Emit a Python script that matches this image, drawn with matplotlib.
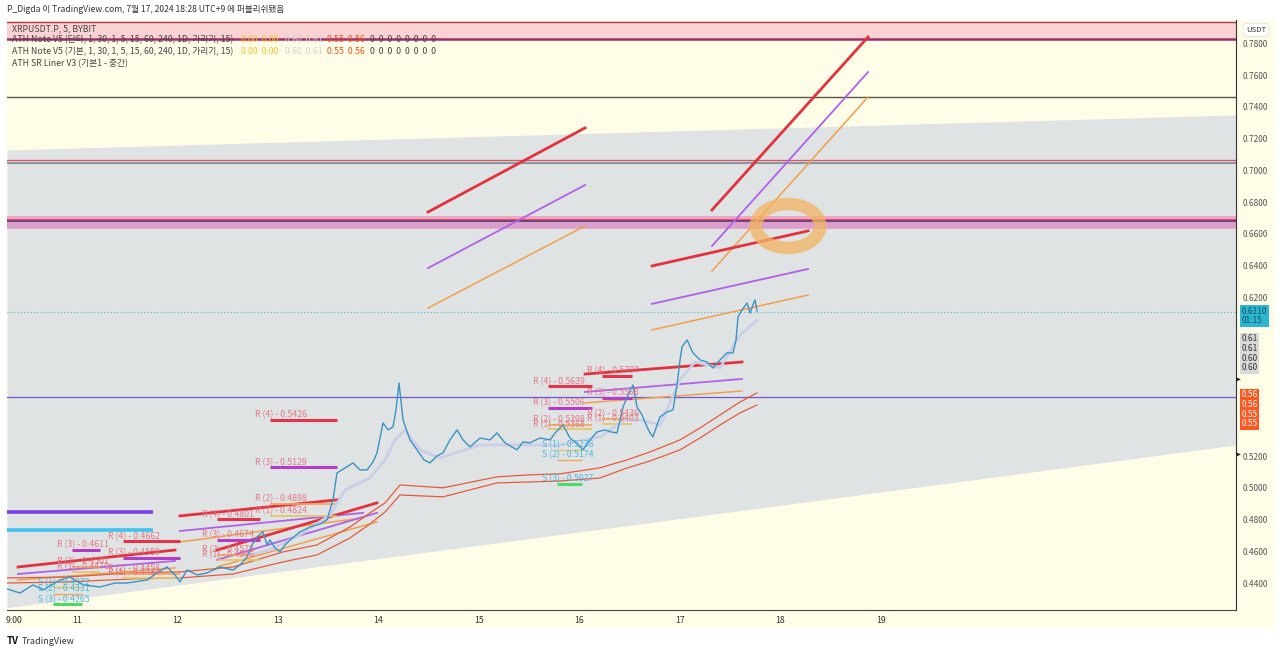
import matplotlib
matplotlib.use("Agg")
import matplotlib.pyplot as plt
import matplotlib.transforms as mtransforms
from matplotlib.patches import Ellipse, Rectangle

plt.rcParams['font.family'] = ['Noto Sans CJK KR', 'DejaVu Sans']

# ---------------- data ----------------
x_range = [10.3035, 22.532]
y_range = [0.4230, 0.7948]

xtick_pos = [10.375, 11, 12, 13, 14, 15, 16, 17, 18, 19]
xtick_labels = ['9:00', '11', '12', '13', '14', '15', '16', '17', '18', '19']
ytick_vals = [0.44, 0.46, 0.48, 0.50, 0.52, 0.54, 0.56, 0.58, 0.60, 0.62,
              0.64, 0.66, 0.68, 0.70, 0.72, 0.74, 0.76, 0.78]
ytick_hidden = [0.54, 0.56, 0.58, 0.60]   # covered by the price labels

price_day = [10.303, 10.433, 10.562, 10.662, 10.831, 10.930, 11.060, 11.229, 11.378, 11.498,
             11.697, 11.796, 11.896, 11.975, 12.025, 12.095, 12.194, 12.294, 12.423, 12.552,
             12.622, 12.692, 12.741, 12.791, 12.851, 12.891, 12.920, 12.970, 13.020, 13.070,
             13.119, 13.219, 13.318, 13.418, 13.488, 13.547, 13.587, 13.667, 13.746, 13.816,
             13.886, 13.945, 13.985, 14.045, 14.095, 14.144, 14.174, 14.204, 14.244, 14.313,
             14.383, 14.453, 14.512, 14.582, 14.642, 14.711, 14.781, 14.841, 14.910, 15.010,
             15.109, 15.179, 15.259, 15.378, 15.438, 15.507, 15.607, 15.706, 15.766, 15.836,
             15.905, 15.965, 16.035, 16.104, 16.174, 16.254, 16.313, 16.373, 16.403, 16.433,
             16.483, 16.532, 16.572, 16.622, 16.672, 16.701, 16.731, 16.771, 16.801, 16.871,
             16.930, 16.970, 17.000, 17.020, 17.070, 17.129, 17.199, 17.269, 17.328, 17.398,
             17.468, 17.527, 17.557, 17.577, 17.617, 17.667, 17.697, 17.726, 17.746, 17.766]
price_val = [0.4363, 0.4337, 0.4388, 0.4356, 0.4419, 0.4438, 0.4388, 0.4375, 0.4400, 0.4400,
             0.4419, 0.4464, 0.4501, 0.4451, 0.4407, 0.4482, 0.4451, 0.4464, 0.4501, 0.4482,
             0.4514, 0.4564, 0.4640, 0.4690, 0.4722, 0.4640, 0.4671, 0.4621, 0.4596, 0.4640,
             0.4671, 0.4722, 0.4753, 0.4772, 0.4798, 0.4924, 0.5094, 0.5125, 0.5157, 0.5113,
             0.5113, 0.5163, 0.5220, 0.5409, 0.5365, 0.5384, 0.5491, 0.5661, 0.5428, 0.5302,
             0.5239, 0.5176, 0.5157, 0.5201, 0.5220, 0.5302, 0.5365, 0.5302, 0.5258, 0.5314,
             0.5302, 0.5346, 0.5283, 0.5239, 0.5289, 0.5283, 0.5314, 0.5302, 0.5352, 0.5396,
             0.5314, 0.5283, 0.5239, 0.5302, 0.5352, 0.5365, 0.5352, 0.5346, 0.5428, 0.5510,
             0.5585, 0.5648, 0.5510, 0.5459, 0.5384, 0.5346, 0.5321, 0.5396, 0.5447, 0.5478,
             0.5491, 0.5648, 0.5806, 0.5888, 0.5932, 0.5850, 0.5806, 0.5793, 0.5755, 0.5806,
             0.5850, 0.5850, 0.5932, 0.6077, 0.6121, 0.6165, 0.6102, 0.6153, 0.6184, 0.6114]

ma_day = [12.721, 12.920, 13.219, 13.517, 13.667, 13.915, 14.065, 14.164, 14.264, 14.413, 14.612,
          15.010, 15.806, 16.204, 16.453, 16.602, 16.801, 17.000, 17.149, 17.398, 17.597, 17.766]
ma_val = [0.4577, 0.4609, 0.4703, 0.4829, 0.4987, 0.5062, 0.5176, 0.5302, 0.5365, 0.5239, 0.5188,
          0.5270, 0.5270, 0.5321, 0.5428, 0.5428, 0.5396, 0.5680, 0.5793, 0.5755, 0.5963, 0.6057]

env_day = [10.303, 10.900, 11.557, 12.025, 12.552, 13.050, 13.388, 13.716, 13.915, 14.065, 14.214,
           14.642, 15.179, 15.507, 15.806, 16.204, 16.473, 16.701, 17.000, 17.199, 17.398, 17.597, 17.766]
env_upper = [0.4432, 0.4438, 0.4464, 0.4470, 0.4501, 0.4596, 0.4640, 0.4753, 0.4842, 0.4905, 0.5018,
             0.5000, 0.5069, 0.5082, 0.5088, 0.5126, 0.5176, 0.5226, 0.5302, 0.5377, 0.5459, 0.5541, 0.5598]
env_lower = [0.4400, 0.4407, 0.4426, 0.4432, 0.4457, 0.4533, 0.4577, 0.4684, 0.4772, 0.4848, 0.4955,
             0.4943, 0.5031, 0.5037, 0.5043, 0.5062, 0.5125, 0.5169, 0.5239, 0.5314, 0.5396, 0.5472, 0.5522]

channel_day = [10.3035, 22.532]
channel_top = [0.7129, 0.7350]
channel_bottom = [0.4244, 0.5270]

top_band = [0.7828, 0.7935]
olive_level = 0.7463
red_level = 0.7065
gray_level = 0.7045
pink_band = [0.6631, 0.6713]
pink_inner = [0.6640, 0.6676]
pink_red_level = 0.6697
pink_dark_level = 0.6684
purple_level = 0.5573
last_price = 0.6110

left_bar_days = [10.303, 11.756]
left_purple_level = 0.4848
left_cyan_level = 0.4735

# trend projection triplets: days, red, purple, orange
trend_g_days = [10.413, 11.975]
trend_g = ([0.4501, 0.4608], [0.4457, 0.4539], [0.4419, 0.4495])
trend_e_days = [12.025, 13.846]
trend_e = ([0.4823, 0.4924], [0.4728, 0.4842], [0.4659, 0.4810])
trend_e_red_days = [12.025, 13.587]
trend_f_days = [12.393, 13.985]
trend_f = ([0.4608, 0.4905], [0.4546, 0.4842], [0.4501, 0.4785])
trend_a_days = [14.493, 16.055]
trend_a = ([0.6738, 0.7268], [0.6385, 0.6908], [0.6133, 0.6650])
trend_d_days = [16.055, 17.617]
trend_d = ([0.5717, 0.5793], [0.5604, 0.5686], [0.5535, 0.5610])
trend_c_days = [16.721, 18.274]
trend_c = ([0.6398, 0.6619], [0.6159, 0.6379], [0.5995, 0.6215])
trend_b_days = [17.318, 18.871]
trend_b = ([0.6751, 0.7841], [0.6524, 0.7620], [0.6366, 0.7463])

# support / resistance level clusters: (start_day, end_day, [(label, value, kind)])
sr_ls = (10.761, 11.050, [('S (1) - 0.4372', 0.4372, 'S1'), ('S (2) - 0.4331', 0.4331, 'S2'),
                          ('S (3) - 0.4265', 0.4265, 'S3')])
sr_l1 = (10.950, 11.229, [('R (3) - 0.4611', 0.4611, 'R3'), ('R (2) - 0.4501', 0.4501, 'R2'),
                          ('R (1) - 0.4470', 0.4470, 'R1')])
sr_l2 = (11.458, 12.025, [('R (4) - 0.4662', 0.4662, 'R4'), ('R (3) - 0.4559', 0.4559, 'R3'),
                          ('R (2) - 0.4458', 0.4458, 'R2'), ('R (1) - 0.4434', 0.4434, 'R1')])
sr_m1 = (12.393, 12.821, [('R (4) - 0.4801', 0.4801, 'R4'), ('R (3) - 0.4674', 0.4674, 'R3'),
                          ('R (2) - 0.4578', 0.4578, 'R2'), ('R (1) - 0.4546', 0.4546, 'R1')])
sr_m2 = (12.920, 13.587, [('R (4) - 0.5426', 0.5426, 'R4'), ('R (3) - 0.5129', 0.5129, 'R3'),
                          ('R (2) - 0.4898', 0.4898, 'R2'), ('R (1) - 0.4824', 0.4824, 'R1')])
sr_h1 = (15.687, 16.124, [('R (4) - 0.5639', 0.5639, 'R4'), ('R (3) - 0.5506', 0.5506, 'R3'),
                          ('R (2) - 0.5398', 0.5398, 'R2'), ('R (1) - 0.5368', 0.5368, 'R1')])
sr_hs = (15.776, 16.025, [('S (1) - 0.5238', 0.5238, 'S1'), ('S (2) - 0.5174', 0.5174, 'S2'),
                          ('S (3) - 0.5027', 0.5027, 'S3')])
sr_h2 = (16.224, 16.522, [('R (4) - 0.5707', 0.5707, 'R4'), ('R (3) - 0.5568', 0.5568, 'R3'),
                          ('R (2) - 0.5436', 0.5436, 'R2'), ('R (1) - 0.5403', 0.5403, 'R1')])

highlight_center = (18.075, 0.6650)
highlight_size = (0.64, 0.0277)

label_cyan = ['0.6110', '01:15']
label_gray = ['0.61', '0.61', '0.60', '0.60']
label_red = ['0.56', '0.56', '0.55', '0.55']
label_cyan_top = 0.6140
label_gray_top = 0.5968
label_red_top = 0.5615
marker_levels = [0.5680, 0.5207]

# ---------------- drawing ----------------
W, H = 1280, 654
fig = plt.figure(figsize=(12.8, 6.54), dpi=100, facecolor='white')


def fx(px):
    return px / W


def fy(py):
    return 1 - py / H


BG_YELLOW = '#FFFDE8'
GRAY = '#E0E3E3'

fig.patches.append(Rectangle((fx(7), fy(628)), fx(1275) - fx(7), fy(610) - fy(628),
                             transform=fig.transFigure, facecolor=BG_YELLOW, edgecolor='none', zorder=-5))
fig.patches.append(Rectangle((fx(1236), fy(628)), fx(1275) - fx(1236), fy(20) - fy(628),
                             transform=fig.transFigure, facecolor=BG_YELLOW, edgecolor='none', zorder=-5))

ax = fig.add_axes([fx(7), fy(610), fx(1236) - fx(7), fy(20) - fy(610)])
ax.set_zorder(1)
ax.set_facecolor(BG_YELLOW)
ax.set_xlim(x_range)
ax.set_ylim(y_range)

# channel
ax.fill_between(channel_day, channel_bottom, channel_top, color=GRAY, lw=0, zorder=1)

# top band
ax.axhspan(top_band[0], top_band[1], color='#F9D3D3', lw=0, zorder=1.5)
ax.axhline(top_band[1], color='#B8343F', lw=1.0, zorder=2)
ax.axhline(top_band[0], color='#9E2F66', lw=1.8, zorder=2)

ax.axhline(olive_level, color='#5A5548', lw=1.0, zorder=2)
ax.axhline(red_level, color='#E0505E', lw=0.9, zorder=2)
ax.axhline(gray_level, color='#8C98A2', lw=1.6, zorder=2)

ax.axhspan(pink_band[0], pink_band[1], color='#EBA9C8', lw=0, zorder=1.6)
ax.axhspan(pink_inner[0], pink_inner[1], color='#D49CCF', lw=0, alpha=0.7, zorder=1.7)
ax.axhline(pink_red_level, color='#E2506A', lw=0.8, zorder=2)
ax.axhline(pink_dark_level, color='#6B3A6E', lw=1.3, zorder=2)

ax.axhline(purple_level, color='#6E56CF', lw=0.9, zorder=2)
ax.axhline(last_price, color='#4DB6CC', lw=0.8, ls=(0, (1, 2)), zorder=2)

ax.plot(left_bar_days, [left_purple_level] * 2, color='#7E3FE6', lw=2.6, solid_capstyle='butt', zorder=3)
ax.plot(left_bar_days, [left_cyan_level] * 2, color='#3FC3EE', lw=2.6, solid_capstyle='butt', zorder=3)

RED, PURPLE, ORANGE = '#E3323F', '#B160E8', '#F0A04B'


def draw_trend(days, trio, red_days=None):
    r, p, o = trio
    ax.plot(red_days if red_days else days, r, color=RED, lw=2.0, zorder=3.5)
    ax.plot(days, p, color=PURPLE, lw=1.3, zorder=3.4)
    ax.plot(days, o, color=ORANGE, lw=1.1, zorder=3.3)


draw_trend(trend_g_days, trend_g)
draw_trend(trend_e_days, trend_e, trend_e_red_days)
draw_trend(trend_f_days, trend_f)
draw_trend(trend_a_days, trend_a)
draw_trend(trend_d_days, trend_d)
draw_trend(trend_c_days, trend_c)
draw_trend(trend_b_days, trend_b)

# envelopes
ax.plot(env_day, env_upper, color='#E55A3C', lw=0.9, zorder=4)
ax.plot(env_day, env_lower, color='#E55A3C', lw=0.9, zorder=4)

# S/R clusters
seg_style = {
    'R4': ('#E5334B', 2.2), 'R3': ('#B43DC8', 2.2), 'R2': ('#F2A65A', 1.2), 'R1': ('#E3C55E', 1.2),
    'S1': ('#E3C55E', 1.0), 'S2': ('#F2A65A', 1.0), 'S3': ('#4CD964', 2.2),
}
for start, end, levels in [sr_ls, sr_l1, sr_l2, sr_m1, sr_m2, sr_h1, sr_hs, sr_h2]:
    for label, val, kind in levels:
        c, lw = seg_style[kind]
        ax.plot([start, end], [val, val], color=c, lw=lw, solid_capstyle='butt', zorder=4.5)
        tc = '#E36F7E' if kind.startswith('R') else '#3BB4E0'
        ax.annotate(label, xy=(start, val), xytext=(-10.5, 1.8), textcoords='offset points',
                    fontsize=6.3, color=tc, ha='left', va='baseline', zorder=7, alpha=0.9)

# MA and price
ax.plot(ma_day, ma_val, color='#C9CFE6', lw=2.0, zorder=5)
ax.plot(price_day, price_val, color='#3A93C3', lw=1.0, zorder=6)

# highlight ring
ax.add_patch(Ellipse(highlight_center, highlight_size[0], highlight_size[1], fill=False,
                     edgecolor='#F2B463', lw=9, alpha=0.75, zorder=10))

# axes styling
for s in ['left', 'top']:
    ax.spines[s].set_visible(False)
ax.spines['right'].set_color('#333333')
ax.spines['right'].set_linewidth(0.8)
ax.spines['bottom'].set_color('#444444')
ax.spines['bottom'].set_linewidth(0.8)

ax.yaxis.tick_right()
ax.set_yticks(ytick_vals)
ax.set_yticklabels(['' if any(abs(v - h) < 1e-9 for h in ytick_hidden) else '%.4f' % v
                    for v in ytick_vals])
ax.tick_params(axis='y', length=0, pad=5, labelsize=6.0, labelcolor='#555555')
ax.set_xticks(xtick_pos)
ax.set_xticklabels(xtick_labels)
ax.tick_params(axis='x', length=0, pad=4, labelsize=6.3, labelcolor='#333333')

trans = mtransforms.blended_transform_factory(ax.transAxes, ax.transData)
ax.text(1.0045, label_cyan_top, '\n'.join(label_cyan), transform=trans, va='top', ha='left',
        fontsize=6.0, color='#0D4F66', linespacing=1.05, clip_on=False, zorder=20,
        bbox=dict(boxstyle='square,pad=0.2', fc='#2DB6CF', ec='none'))
ax.text(1.0045, label_gray_top, '\n'.join(label_gray), transform=trans, va='top', ha='left',
        fontsize=6.0, color='#333333', linespacing=1.1, clip_on=False, zorder=20,
        bbox=dict(boxstyle='square,pad=0.2', fc='#D9D9D9', ec='none'))
ax.text(1.0045, label_red_top, '\n'.join(label_red), transform=trans, va='top', ha='left',
        fontsize=6.0, color='white', linespacing=1.1, clip_on=False, zorder=20,
        bbox=dict(boxstyle='square,pad=0.2', fc='#FF5722', ec='none'))
for lv in marker_levels:
    ax.text(1.0, lv, '▶', transform=trans, va='center', ha='left', fontsize=4.5,
            color='#222222', clip_on=False, family='DejaVu Sans')

fig.text(fx(1256), fy(30), 'USDT', ha='center', va='center', fontsize=5.6, color='#333333',
         bbox=dict(boxstyle='round,pad=0.35', fc='white', ec='#E2E2E2', lw=0.6), zorder=5)

# header
fig.text(fx(7), fy(9), 'P_Digda 이 TradingView.com, 7월 17, 2024 18:28 UTC+9 에 퍼블리쉬됐음',
         ha='left', va='center', fontsize=6.2, color='#333333')

# legend rows
LEG_FS = 6.3
fig.text(fx(12), fy(29), 'XRPUSDT.P, 5, BYBIT', ha='left', va='center', fontsize=LEG_FS,
         color='#444444', zorder=5)
legend_rows = [
    (40, 'ATH Note V5 (단타, 1, 30, 1, 5, 15, 60, 240, 1D, 가리기, 15)'),
    (52, 'ATH Note V5 (기본, 1, 30, 1, 5, 15, 60, 240, 1D, 가리기, 15)'),
]
for py, txt in legend_rows:
    fig.text(fx(12), fy(py), txt, ha='left', va='center', fontsize=LEG_FS, color='#444444', zorder=5)
    fig.text(fx(241), fy(py), '0.00  0.00', ha='left', va='center', fontsize=LEG_FS, color='#F2C232', zorder=5)
    fig.text(fx(285), fy(py), '0.60  0.61', ha='left', va='center', fontsize=LEG_FS, color='#D0D0D0', zorder=5)
    fig.text(fx(327), fy(py), '0.55  0.56', ha='left', va='center', fontsize=LEG_FS, color='#F4511E', zorder=5)
    fig.text(fx(370), fy(py), '0  0  0  0  0  0  0  0', ha='left', va='center', fontsize=LEG_FS,
             color='#444444', zorder=5)
fig.text(fx(12), fy(64), 'ATH SR Liner V3 (기본1 - 중간)', ha='left', va='center', fontsize=LEG_FS,
         color='#444444', zorder=5)

# footer
fig.text(fx(7), fy(641), 'TV', ha='left', va='center', fontsize=7, weight='bold', color='#111111')
fig.text(fx(22), fy(641), 'TradingView', ha='left', va='center', fontsize=6.5, color='#333333')

fig.savefig('out.png', dpi=100, facecolor='white')
